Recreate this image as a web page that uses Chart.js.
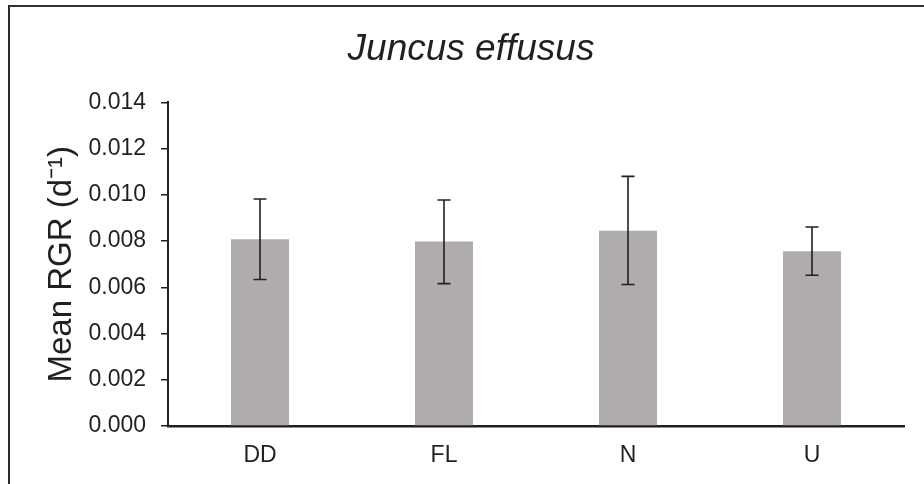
<!DOCTYPE html>
<html>
<head>
<meta charset="utf-8">
<script src="https://cdn.jsdelivr.net/npm/chart.js@4/dist/chart.umd.min.js"></script>
<style>
  body { margin: 0; background: #fff; }
  #wrap { position: relative; width: 924px; height: 484px; overflow: hidden; }
  #frame { position: absolute; left: 8px; top: 5px; right: -10px; bottom: -10px;
           border-top: 2px solid #333; border-left: 2px solid #2a2a2a; pointer-events: none; }
</style>
</head>
<body>
<div id="wrap">
  <canvas id="myChart" width="924" height="484"></canvas>
  <div id="frame"></div>
</div>
<script>
// dados
const categorias = ["DD", "FL", "N", "U"];
const mediaRGR = [0.00808, 0.00798, 0.00845, 0.00756];
const erroSuperior = [0.00982, 0.00978, 0.01080, 0.00861];
const erroInferior = [0.00634, 0.00616, 0.00612, 0.00652];
const ticksY = [0, 0.002, 0.004, 0.006, 0.008, 0.010, 0.012, 0.014];

const corTexto = "#231f20";

// desenha as barras de erro
const barrasDeErro = {
  id: "barrasDeErro",
  afterDatasetsDraw(chart) {
    const ctx = chart.ctx;
    const meta = chart.getDatasetMeta(0);
    const y = chart.scales.y;
    ctx.save();
    ctx.strokeStyle = corTexto;
    ctx.lineWidth = 1.6;
    meta.data.forEach((bar, i) => {
      const x = bar.x;
      const yTop = y.getPixelForValue(erroSuperior[i]);
      const yBot = y.getPixelForValue(erroInferior[i]);
      ctx.beginPath();
      ctx.moveTo(x, yTop);
      ctx.lineTo(x, yBot);
      ctx.moveTo(x - 6.5, yTop);
      ctx.lineTo(x + 6.5, yTop);
      ctx.moveTo(x - 6.5, yBot);
      ctx.lineTo(x + 6.5, yBot);
      ctx.stroke();
    });
    ctx.restore();
  },
};

function grafico() {
  const ctx = document.getElementById("myChart");
  new Chart(ctx, {
    type: "bar",
    data: {
      labels: categorias,
      datasets: [
        {
          data: mediaRGR,
          backgroundColor: "#b0acab",
          borderWidth: 0,
          categoryPercentage: 1,
          barPercentage: 0.315,
        },
      ],
    },
    options: {
      responsive: false,
      animation: false,
      layout: { padding: { left: 38, right: 20, top: 0, bottom: 0 } },
      plugins: {
        legend: { display: false },
        tooltip: { enabled: false },
        title: {
          display: true,
          text: "Juncus effusus",
          color: corTexto,
          font: { family: "Liberation Sans, Arial, sans-serif", size: 37, style: "italic", weight: "normal" },
          padding: { top: 28, bottom: 30 },
        },
      },
      scales: {
        x: {
          afterFit: (s) => { s.height = 58; },
          grid: { display: false, drawTicks: false },
          border: { display: true, color: corTexto, width: 2.5 },
          ticks: {
            color: corTexto,
            padding: 16,
            font: { family: "Liberation Sans, Arial, sans-serif", size: 23 },
          },
        },
        y: {
          min: 0,
          max: 0.014,
          afterFit: (s) => { s.width = 130; },
          afterBuildTicks: (s) => { s.ticks = ticksY.map((v) => ({ value: v })); },
          grid: { drawOnChartArea: false, drawTicks: true, tickLength: 7, color: corTexto, lineWidth: 1.5 },
          border: { display: true, color: corTexto, width: 2 },
          ticks: {
            color: corTexto,
            padding: 15,
            font: { family: "Liberation Sans, Arial, sans-serif", size: 23 },
            callback: (v) => v.toFixed(3),
          },
          title: {
            display: true,
            text: "Mean RGR (d\u207B\u00B9)",
            color: corTexto,
            padding: { top: 4, bottom: 0 },
            font: { family: "Liberation Sans, Arial, sans-serif", size: 33 },
          },
        },
      },
    },
    plugins: [barrasDeErro],
  });
}

grafico();
</script>
</body>
</html>
